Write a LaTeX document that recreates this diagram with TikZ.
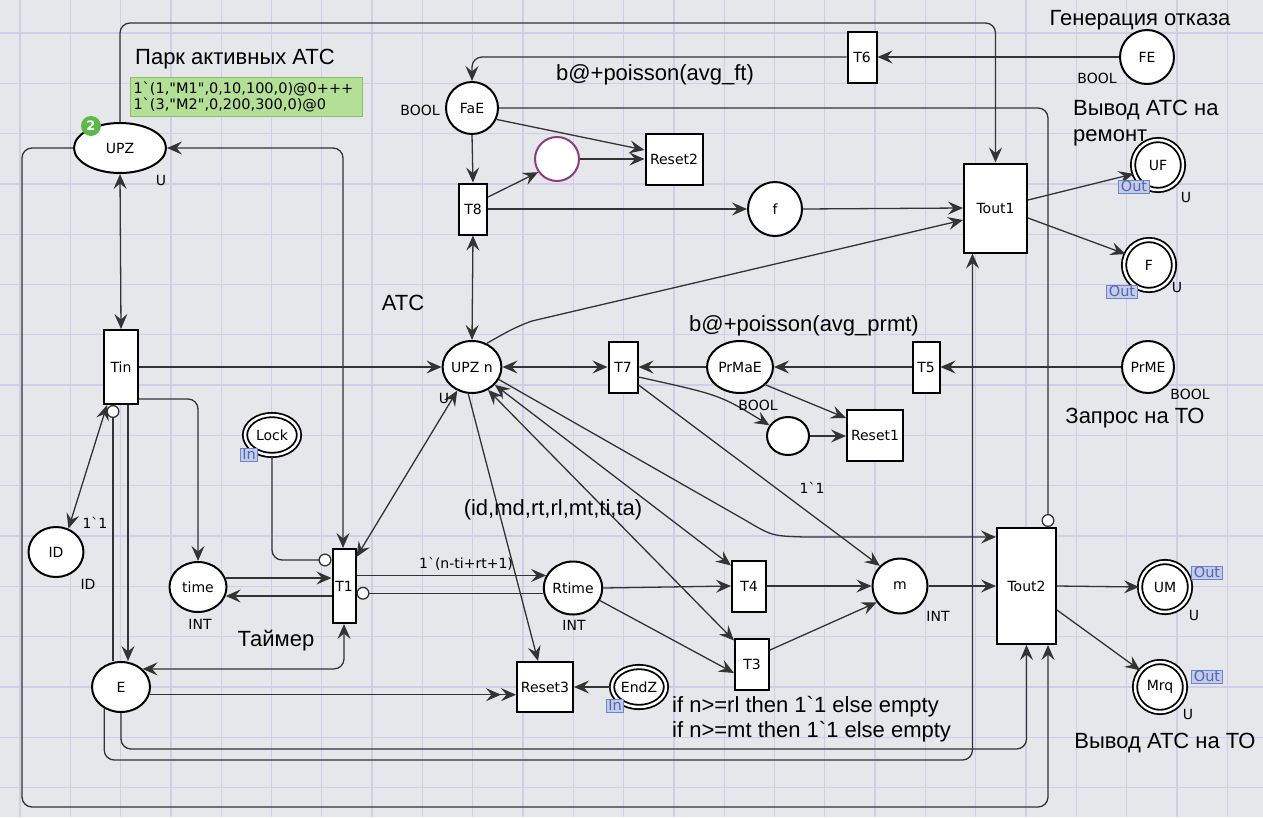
\documentclass[tikz,border=0pt]{standalone}
\usepackage{fontspec}
\setmainfont{Liberation Sans}
\newfontfamily\dvs{DejaVu Sans}
\newfontfamily\libs{Liberation Sans}
\usetikzlibrary{arrows.meta,shapes.geometric,calc}
\definecolor{bgc}{HTML}{E6E7EB}
\definecolor{gridc}{HTML}{D1CCE8}
\definecolor{arcc}{HTML}{333333}
\definecolor{tagfill}{HTML}{C3CCEB}
\definecolor{tagdraw}{HTML}{6F83C7}
\definecolor{tagtext}{HTML}{5565B0}
\definecolor{greenbox}{HTML}{B4DF96}
\definecolor{greenbd}{HTML}{86C264}
\definecolor{badgec}{HTML}{5CB947}
\definecolor{purp}{HTML}{8E3B82}
\newcommand{\nlbl}{\dvs\fontsize{14}{16}\selectfont}
\begin{document}
\begin{tikzpicture}[x=1pt,y=-1pt,
 >={Stealth[length=15pt,width=13pt,inset=5.5pt]},
 arc/.style={draw=arcc, line width=1.3pt},
 place/.style={ellipse, draw, line width=2pt, fill=white, inner sep=0pt, font=\nlbl},
 trans/.style={rectangle, draw, line width=2pt, fill=white, inner sep=0pt, font=\nlbl},
 port/.style={ellipse, draw, line width=1.8pt, double=white, double distance=2.5pt, fill=white, inner sep=0pt, font=\nlbl},
 tag/.style={draw=tagdraw, fill=tagfill, text=tagtext, line width=1pt, inner xsep=2pt, inner ysep=1pt, text height=10pt, text depth=1pt, font=\dvs\fontsize{14.5}{14.5}\selectfont},
 lab/.style={inner sep=0pt, font=\nlbl},
 big/.style={inner sep=0pt, font=\libs\fontsize{22}{25.5}\selectfont},
 inh/.style={-{Circle[length=13pt,fill=white]}},
 dbl/.style={-{Stealth[length=15pt,width=13pt,inset=5.5pt]Stealth[length=15pt,width=13pt,inset=5.5pt]}},
]
\useasboundingbox (0,0) rectangle (1263,817);
\fill[bgc] (0,0) rectangle (1263,817);
\foreach \k in {0,...,25} \draw[gridc, line width=1.3pt] ({20+50.3*\k},0) -- ({20+50.3*\k},817);
\foreach \k in {0,...,16} \draw[gridc, line width=1.3pt] (0,{33+50.3*\k}) -- (1263,{33+50.3*\k});

% ---------- nodes ----------
\node[place, minimum width=92pt, minimum height=50pt] (UPZ) at (120,148) {UPZ};
\node[trans, minimum width=34pt, minimum height=74pt] (Tin) at (121,367) {Tin};
\node[place, minimum width=55pt, minimum height=50pt] (ID) at (56,552) {ID};
\node[place, minimum width=57pt, minimum height=50pt] (time) at (198,587) {time};
\node[port, minimum width=54pt, minimum height=40pt] (Lock) at (272,435) {Lock};
\node[trans, minimum width=23pt, minimum height=74pt] (T1) at (344,586) {T1};
\node[place, minimum width=58pt, minimum height=50pt] (E) at (121,687) {E};
\node[trans, minimum width=56pt, minimum height=50pt] (Reset3) at (545,687) {Reset3};
\node[port, minimum width=54pt, minimum height=40pt] (EndZ) at (639,687) {EndZ};
\node[place, minimum size=52pt] (FaE) at (472,108) {FaE};
\node[trans, minimum width=28pt, minimum height=51pt] (T8) at (473,209) {T8};
\node[circle, draw=purp, line width=2pt, fill=white, minimum size=44pt] (pc) at (557,159) {};
\node[trans, minimum width=57pt, minimum height=51pt] (Reset2) at (674,159) {Reset2};
\node[place, minimum size=54pt] (f) at (775,209) {f};
\node[trans, minimum width=29pt, minimum height=51pt] (T6) at (862,57) {T6};
\node[place, minimum size=54pt] (FE) at (1147,57) {FE};
\node[trans, minimum width=63pt, minimum height=89pt] (Tout1) at (995.5,208) {Tout1};
\node[port, minimum size=50pt] (UF) at (1158,165) {UF};
\node[port, minimum size=50pt] (F) at (1149,265) {F};
\node[place, minimum width=56pt, minimum height=52pt] (UPZn) at (472,367) {UPZ n};
\node[trans, minimum width=29pt, minimum height=51pt] (T7) at (623,367) {T7};
\node[place, minimum width=66pt, minimum height=52pt] (PrMaE) at (740,367) {PrMaE};
\node[trans, minimum width=27pt, minimum height=51pt] (T5) at (926,367) {T5};
\node[place, minimum size=52pt] (PrME) at (1148,367) {PrME};
\node[place, minimum width=42pt, minimum height=38pt] (sc) at (788,436) {};
\node[trans, minimum width=56pt, minimum height=51pt] (Reset1) at (875,435) {Reset1};
\node[place, minimum size=53pt] (Rtime) at (573,588) {Rtime};
\node[trans, minimum width=34pt, minimum height=51pt] (T4) at (749,586) {T4};
\node[trans, minimum width=34pt, minimum height=51pt] (T3) at (752,664) {T3};
\node[place, minimum size=55pt] (m) at (900,586) {m};
\node[trans, minimum width=59pt, minimum height=116pt] (Tout2) at (1026.5,586) {Tout2};
\node[port, minimum size=50pt] (UM) at (1165,587) {UM};
\node[port, minimum size=50pt] (Mrq) at (1160,687) {Mrq};

% ---------- arcs ----------
\draw[arc,->,rounded corners=10pt] (UPZ.north) -- (120,23) -- (995.5,23) -- (Tout1.north);
\draw[arc,->,rounded corners=10pt] (UPZ.west) -- (22,148) -- (22,807) -- (1048,807) -- ([xshift=21.5pt]Tout2.south);
\draw[arc,<->] (UPZ.south) -- (Tin.north);
\draw[arc,<->,rounded corners=10pt] (UPZ.east) -- (343,148) -- ([xshift=-1pt]T1.north);
\draw[arc,<->] (ID.62) -- ([xshift=-14pt]Tin.south);
\draw[arc,inh] ([xshift=-8pt]E.north) -- ([xshift=-8pt]Tin.south);
\draw[arc,->] ([xshift=7pt]Tin.south) -- ([xshift=7pt]E.north);
\draw[arc,->,rounded corners=10pt] ([yshift=-32pt]Tin.east) -| (time.north);
\draw[arc,->] (Tin.east) -- (UPZn.west);
\draw[arc,inh,rounded corners=10pt] (Lock.south) |- ([yshift=26pt]T1.west);
\draw[arc,->] (time.18) -- (time.18 -| T1.west);
\draw[arc,->] (time.342 -| T1.west) -- (time.342);
\draw[arc,->] (T1.east |- Rtime.155) -- (Rtime.155);
\draw[arc,inh] (Rtime.190) -- (Rtime.190 -| T1.east);
\draw[arc,<->,rounded corners=10pt] (E.40) -| (T1.south);
\draw[arc,dbl] (E.345) -- (E.345 -| Reset3.west);
\draw[arc,->,rounded corners=10pt] (E.232) |- (972.5,760) -- ([xshift=-23pt]Tout1.south);
\draw[arc,->,rounded corners=10pt] (E.south) |- (1026.5,749) -- (Tout2.south);
\draw[arc,<->] (UPZn.238) -- ([yshift=-9pt]T1.north east);
\draw[arc,->] (UPZn.262) -- ([xshift=-7pt]Reset3.north);
\draw[arc,<->] (UPZn.east) -- (T7.west);
\draw[arc,->] (PrMaE.west) -- (T7.east);
\draw[arc,->] (T5.west) -- (PrMaE.east);
\draw[arc,->] (PrME.west) -- (T5.east);
\draw[arc,->] ([yshift=-10pt]T7.east) .. controls (720,395) .. (sc.150);
\draw[arc,->] ([yshift=-18pt]T7.east) -- (m.135);
\draw[arc,->] (PrMaE.325) -- ([yshift=17pt]Reset1.west);
\draw[arc,->] (sc.east) -- (sc.east -| Reset1.west);
\draw[arc,<->] (UPZn.322) -- ([yshift=-6pt]T4.north west);
\draw[arc,<->] (UPZn.305) -- ([yshift=-3pt]T3.north west);
\draw[arc,->] (UPZn.335) -- (745,520) .. controls (772,536) .. (805,537) -- ([yshift=49pt]Tout2.west);
\draw[arc,->] (Rtime.east) -- (T4.west);
\draw[arc,->] (Rtime.335) -- ([yshift=-9pt]T3.west);
\draw[arc,->] (T4.east) -- (m.west);
\draw[arc,->] ([yshift=14pt]T3.east) -- (m.215);
\draw[arc,->] (m.east) -- (Tout2.west);
\draw[arc,->] (Tout2.east) -- (UM.west);
\draw[arc,->] ([yshift=-24pt]Tout2.east) -- (Mrq.140);
\draw[arc,->] (EndZ.west) -- (Reset3.east);
\draw[arc,->] (FaE.south) -- (T8.north);
\draw[arc,<->] (T8.south) -- (UPZn.north);
\draw[arc,->,rounded corners=10pt] (T6.west) -| (FaE.north);
\draw[arc,->] (FE.west) -- (T6.east);
\draw[arc,->] (FaE.335) -- ([yshift=9pt]Reset2.west);
\draw[arc,->] ([yshift=12pt]T8.east) -- (pc.215);
\draw[arc,->] (pc.east) -- (Reset2.west);
\draw[arc,->] (T8.east) -- (f.west);
\draw[arc,->] (f.east) -- (Tout1.west);
\draw[arc,inh,rounded corners=10pt] (FaE.east) -| ([xshift=21.5pt]Tout2.north);
\draw[arc,->] (UPZn.58) .. controls (505,333) and (515,327) .. (532,321) -- ([yshift=-12pt]Tout1.west);
\draw[arc,->] ([yshift=8pt]Tout1.east) -- (UF.200);
\draw[arc,->] ([yshift=-10pt]Tout1.east) -- (F.155);

% ---------- token and initial marking ----------
\node[circle, fill=badgec, minimum size=20pt, inner sep=0pt, text=white, font=\dvs\fontsize{13}{13}\selectfont\bfseries] (tok) at (91,126) {2};
\node[big, anchor=west] (title) at (135,59) {Парк активных АТС};
\node[draw=greenbd, fill=greenbox, line width=1pt, anchor=north west, minimum width=232pt, minimum height=39pt, inner sep=3pt, align=left, text width=226pt, font=\dvs\fontsize{14.5}{15.5}\selectfont] (init) at (130,77) {1`(1,"M1",0,10,100,0)@0+++\\1`(3,"M2",0,200,300,0)@0};

% ---------- labels ----------
\node[lab] (lU1) at (161,180) {U};
\node[lab] (lB1) at (420,110) {BOOL};
\node[big] (lgen) at (1140,20) {Генерация отказа};
\node[lab] (lB2) at (1097,78) {BOOL};
\node[big, anchor=west, align=left] (lrem) at (1073,123) {Вывод АТС на\\ремонт};
\node[lab] (lU2) at (1186,197) {U};
\node[tag] (tUF) at (1134,187) {Out};
\node[lab] (lU3) at (1177,287) {U};
\node[tag] (tF) at (1122,292) {Out};
\node[big] (lpft) at (655,75) {b@+poisson(avg\_ft)};
\node[big] (latc) at (403,303) {АТС};
\node[big] (lprm) at (804,326) {b@+poisson(avg\_prmt)};
\node[lab] (lB3) at (758,405) {BOOL};
\node[lab] (lB4) at (1190,394) {BOOL};
\node[big] (lzap) at (1135,418) {Запрос на ТО};
\node[lab] (lU4) at (444,398) {U};
\node[tag] (tLock) at (249,455) {In};
\node[lab] (l11a) at (95,523) {1`1};
\node[lab] (lID) at (88,584) {ID};
\node[lab] (lI1) at (200,624) {INT};
\node[big] (ltim) at (276,641) {Таймер};
\node[lab] (lexp) at (466,564) {1`(n-ti+rt+1)};
\node[big] (ltup) at (553,510) {(id,md,rt,rl,mt,ti,ta)};
\node[lab] (l11b) at (812,488) {1`1};
\node[lab] (lI2) at (574,625) {INT};
\node[lab] (lI3) at (938,616) {INT};
\node[tag] (tEndZ) at (615,706) {In};
\node[big, anchor=west, align=left] (lif) at (672,719) {if n>=rl then 1`1 else empty\\if n>=mt then 1`1 else empty};
\node[lab] (lU5) at (1194,615) {U};
\node[tag] (tUM) at (1207,573) {Out};
\node[lab] (lU6) at (1188,714) {U};
\node[tag] (tMrq) at (1207,677) {Out};
\node[big] (lvto) at (1165,743) {Вывод АТС на ТО};
\end{tikzpicture}
\end{document}
